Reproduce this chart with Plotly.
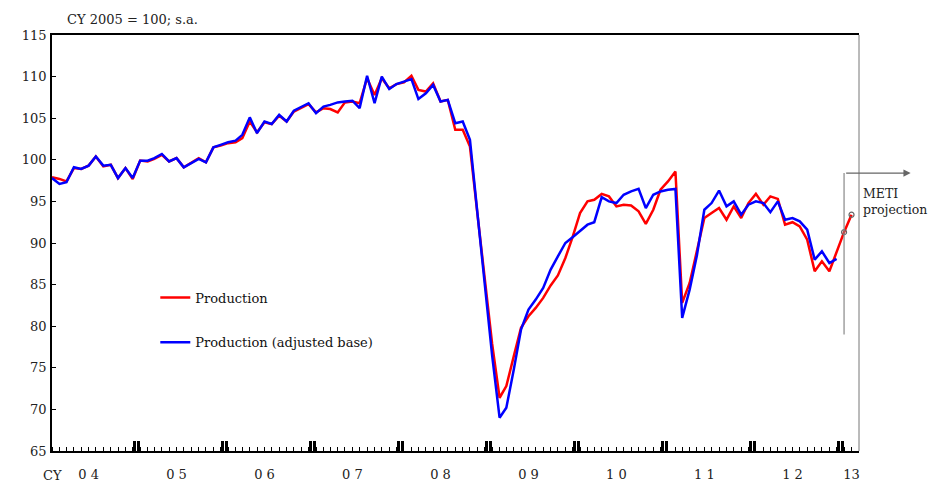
import pandas as pd
import plotly.graph_objects as go

# monthly index, CY2005 = 100, s.a.  (Jan 2004 .. Feb 2013)
months = pd.date_range("2004-01-01", periods=110, freq="MS")

production = [
    97.9, 97.7, 97.4, 99.0, 98.9, 99.3, 100.4, 99.2, 99.4, 97.8, 99.0, 97.7,
    99.9, 99.8, 100.1, 100.6, 99.8, 100.2, 99.1, 99.6, 100.2, 99.7, 101.5, 101.7,
    102.0, 102.1, 102.6, 104.6, 103.3, 104.5, 104.3, 105.3, 104.6, 105.8, 106.3, 106.7,
    105.7, 106.2, 106.1, 105.7, 106.9, 107.0, 106.8, 109.8, 107.8, 109.8, 108.6, 109.1,
    109.3, 110.1, 108.4, 108.2, 109.2, 107.0, 107.2, 103.6, 103.6, 101.6, 93.5, 85.6,
    77.9, 71.4, 72.8, 76.4, 79.8, 81.2, 82.2, 83.4, 84.9, 86.1, 88.2, 90.7,
    93.6, 95.0, 95.2, 95.9, 95.6, 94.4, 94.6, 94.5, 93.8, 92.3, 94.0, 96.4,
    97.4, 98.6, 82.8, 85.2, 89.2, 93.0, 93.6, 94.2, 92.8, 94.4, 93.0, 94.8,
    95.9, 94.6, 95.6, 95.3, 92.2, 92.5, 92.0, 90.4, 86.6, 87.8, 86.6, 89.0,
    91.3, 93.4,
]

production_adj = [
    97.8, 97.1, 97.3, 99.1, 98.9, 99.3, 100.4, 99.3, 99.4, 97.8, 99.0, 97.8,
    99.9, 99.9, 100.2, 100.7, 99.8, 100.2, 99.1, 99.6, 100.1, 99.7, 101.5, 101.8,
    102.1, 102.3, 103.0, 105.1, 103.2, 104.6, 104.3, 105.4, 104.6, 105.9, 106.4, 106.8,
    105.6, 106.4, 106.6, 106.9, 107.0, 107.1, 106.2, 110.1, 106.8, 110.0, 108.5, 109.1,
    109.4, 109.7, 107.3, 108.0, 109.0, 107.0, 107.2, 104.4, 104.6, 102.4, 93.6, 85.0,
    76.5, 69.0, 70.2, 74.8, 79.6, 82.0, 83.2, 84.6, 86.8, 88.4, 90.0, 90.7,
    91.5, 92.2, 92.5, 95.5, 95.0, 94.8, 95.8, 96.2, 96.5, 94.2, 95.8, 96.2,
    96.4, 96.5, 81.0, 84.4, 88.5, 94.0, 94.8, 96.3, 94.4, 95.0, 93.4, 94.6,
    95.0, 94.8, 93.7, 95.0, 92.8, 93.0, 92.6, 91.6, 88.0, 89.0, 87.6, 88.1,
]

# METI projection months (last two points of production)
proj_months = months[-2:]
proj_values = production[-2:]

year_labels = ["0 4", "0 5", "0 6", "0 7", "0 8", "0 9", "1 0", "1 1", "1 2", "13"]
label_pos = [f"{y}-06-01" for y in range(2004, 2013)] + ["2013-02-01"]
year_bounds = []
for y in range(2004, 2013):
    year_bounds += [f"{y}-12-08", f"{y}-12-27"]

serif = "DejaVu Serif"
x_range = ["2004-01-01", "2013-03-04"]

fig = go.Figure()
fig.add_trace(go.Scatter(x=months, y=production, name="Production", legendgroup="a",
                         mode="lines", line=dict(color="#ff0000", width=2.5)))
fig.add_trace(go.Scatter(x=months[:len(production_adj)], y=production_adj,
                         name="Production (adjusted base)", legendgroup="b",
                         mode="lines", line=dict(color="#0000ff", width=2.5)))
fig.add_trace(go.Scatter(x=proj_months, y=proj_values, mode="markers",
                         marker=dict(symbol="circle-open", size=5, color="#666666",
                                     line=dict(width=1.2)),
                         showlegend=False, hoverinfo="skip"))

fig.update_layout(
    width=931, height=484,
    margin=dict(l=52, r=72, t=35, b=33),
    paper_bgcolor="white", plot_bgcolor="white",
    font=dict(family=serif, size=13, color="#222222"),
    showlegend=True,
    legend=dict(x=0.128, y=0.405, xanchor="left", yanchor="top",
                bgcolor="rgba(0,0,0,0)", tracegroupgap=25,
                font=dict(family=serif, size=13, color="#111111")),
    xaxis=dict(type="date", range=x_range, showgrid=False, zeroline=False,
               automargin=False,
               showline=True, linecolor="black", linewidth=1.6, mirror=True,
               tickmode="array", tickvals=label_pos, ticktext=year_labels,
               ticks="", ticklabelstandoff=11,
               minor=dict(tickmode="array", tickvals=list(months),
                          ticks="inside", ticklen=4, tickwidth=1, tickcolor="black")),
    xaxis2=dict(type="date", range=x_range, overlaying="x", anchor="y", side="bottom",
                automargin=False,
                showgrid=False, zeroline=False, showline=False, showticklabels=False,
                tickmode="array", tickvals=year_bounds,
                ticks="inside", ticklen=10, tickwidth=3, tickcolor="black"),
    yaxis=dict(range=[65, 115], dtick=5, showgrid=False, zeroline=False,
               automargin=False,
               showline=True, linecolor="black", linewidth=1.6,
               ticks="inside", ticklen=4, tickcolor="black", ticklabelstandoff=1),
)

# invisible trace to keep the year-boundary axis alive
fig.add_trace(go.Scatter(x=[months[0]], y=[None], xaxis="x2", showlegend=False,
                         hoverinfo="skip"))

# right frame line (grey)
fig.add_shape(type="line", xref="paper", yref="paper", x0=1, x1=1, y0=0, y1=1,
              line=dict(color="#777777", width=1))

# projection bracket
fig.add_shape(type="line", xref="x", yref="y", x0=proj_months[0], x1=proj_months[0],
              y0=79.0, y1=98.4, line=dict(color="#888888", width=1.2))
fig.add_annotation(xref="paper", yref="y", x=1.064, y=98.4, ax=-66, ay=0,
                   axref="pixel", ayref="pixel", text="", showarrow=True,
                   arrowhead=2, arrowsize=1.2, arrowwidth=1.2, arrowcolor="#666666")
fig.add_annotation(xref="paper", yref="y", x=1.003, y=95.0, xanchor="left",
                   yanchor="middle", align="left", showarrow=False,
                   text="METI<br>projection", font=dict(family=serif, size=12.5))

fig.add_annotation(xref="paper", yref="paper", x=0.016, y=1.038, xanchor="left",
                   yanchor="middle", showarrow=False, text="CY 2005 = 100; s.a.",
                   font=dict(family=serif, size=13))
fig.add_annotation(xref="paper", yref="paper", x=0.0, y=-0.06, xanchor="center",
                   yanchor="middle", showarrow=False, text="CY",
                   font=dict(family=serif, size=13))

fig.write_html("out.html", config={"displayModeBar": False},
               post_script="document.body.style.margin='0';")
